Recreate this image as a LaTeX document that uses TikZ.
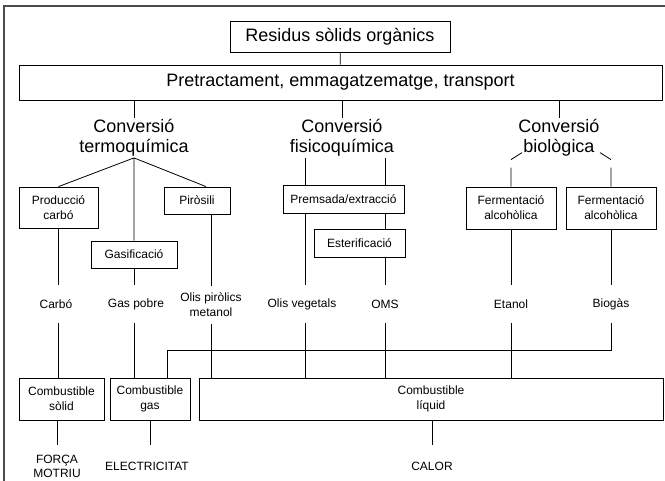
\documentclass[tikz,border=0pt]{standalone}
\usepackage{fontspec}
\setmainfont{Liberation Sans}
\begin{document}
\begin{tikzpicture}[x=1pt, y=-1pt, line width=0.8pt,
        box/.style={draw, align=center, inner sep=0pt, font=\fontsize{12}{15}\selectfont},
        big/.style={align=center, inner sep=1pt, font=\fontsize{18}{20}\selectfont},
        prod/.style={align=center, inner sep=0pt, minimum height=37pt, font=\fontsize{12}{15}\selectfont},
        usage/.style={align=center, inner sep=0pt, minimum height=42pt, font=\fontsize{12}{14}\selectfont}]
    \useasboundingbox (0,0) rectangle (665,481);
    \draw[line width=1.4pt, black!70] (665,6) -| (4,481);

    \node[box, big, minimum width=220pt, minimum height=31pt] (residus) at (340,36.5) {Residus sòlids orgànics};
    \node[box, big, minimum width=643pt, minimum height=35pt] (pretract) at (340.5,82.5) {Pretractament, emmagatzematge, transport};
    \draw (residus) -- (pretract);

    \node[big] (termo) at (134,138) {Conversió\\termoquímica};
    \node[big] (fisico) at (342,138) {Conversió\\fisicoquímica};
    \node[big] (bio) at (559,138) {Conversió\\biològica};
    \foreach \n in {termo,fisico,bio}
        \draw (pretract.south -| \n) -- (\n.north);

    % termoquimica
    \node[box, minimum width=79pt, minimum height=41pt] (prodcarbo) at (58.5,207.5) {Producció\\carbó};
    \node[box, minimum width=66pt, minimum height=27pt] (pirosili) at (197,200.5) {Piròsili};
    \node[box, minimum width=86pt, minimum height=27pt] (gasif) at (134,254.5) {Gasificació};
    \draw (prodcarbo.north) -- (termo.south) -- ([xshift=9pt]pirosili.north)
        (termo.south) -- (gasif.north);

    % fisicoquimica
    \node[box, minimum width=121pt, minimum height=28pt] (premsada) at (343.5,199) {Premsada/extracció};
    \node[box, minimum width=91pt, minimum height=28pt] (ester) at (359.5,243) {Esterificació};

    % biologica
    \node[box, minimum width=90pt, minimum height=42pt] (ferm1) at (511,208) {Fermentació\\alcohòlica};
    \node[box, minimum width=90pt, minimum height=42pt] (ferm2) at (611,208) {Fermentació\\alcohòlica};
    \draw (ferm1.north) -- ++(0,-19) ++(0,-8) -- ++(11,-7);
    \draw (ferm2.north) -- ++(0,-19) ++(0,-8) -- ++(-11,-7);

    % productes
    \node[prod] (carbo) at (56,304) {Carbó};
    \node[prod] (gaspobre) at (136,304) {Gas pobre};
    \node[prod] (olispir) at (211,305) {Olis piròlics\\metanol};
    \node[prod] (olisveg) at (302,304) {Olis vegetals};
    \node[prod] (oms) at (385,304) {OMS};
    \node[prod] (etanol) at (511,304) {Etanol};
    \node[prod] (biogas) at (611,304) {Biogàs};

    % combustibles
    \node[box, minimum width=85pt, minimum height=42pt] (solid) at (61.5,399) {Combustible\\sòlid};
    \node[box, minimum width=80pt, minimum height=42pt] (gascomb) at (150,399) {Combustible\\gas};
    \node[box, minimum width=464pt, minimum height=42pt] (liquid) at (431,399) {Combustible\\líquid};

    \draw (prodcarbo.south) -- (prodcarbo |- carbo.north)
        (prodcarbo |- carbo.south) -- (prodcarbo |- solid.north);
    \draw (gasif.south) -- (gasif |- gaspobre.north)
        (gasif |- gaspobre.south) -- (gasif |- gascomb.north);
    \draw (olispir |- pirosili.south) -- (olispir.north);
    \draw (305,0 |- fisico.south) -- (305,0 |- premsada.north)
        (305,0 |- premsada.south) -- (305,0 |- olisveg.north)
        (305,0 |- olisveg.south) -- (305,0 |- liquid.north);
    \draw (oms |- fisico.south) -- (oms |- premsada.north)
        (oms |- premsada.south) -- (oms |- ester.north)
        (oms |- ester.south) -- (oms.north);
    \draw (ferm1.south) -- (etanol.north);
    \draw (ferm2.south) -- (biogas.north);
    \foreach \n in {olispir,oms,etanol}
        \draw (\n.south) -- (\n |- liquid.north);

    \coordinate (hook) at (167,350);
    \draw (biogas.south) |- (hook) -- (hook |- gascomb.north);

    % usos
    \node[usage] (forca) at (57,466) {FORÇA\\MOTRIU};
    \node[usage] (elec) at (147,466) {ELECTRICITAT};
    \node[usage] (calor) at (432,466) {CALOR};
    \draw (forca |- solid.south) -- (forca.north);
    \draw (gascomb.south) -- (gascomb |- elec.north);
    \draw (calor |- liquid.south) -- (calor.north);
\end{tikzpicture}
\end{document}
